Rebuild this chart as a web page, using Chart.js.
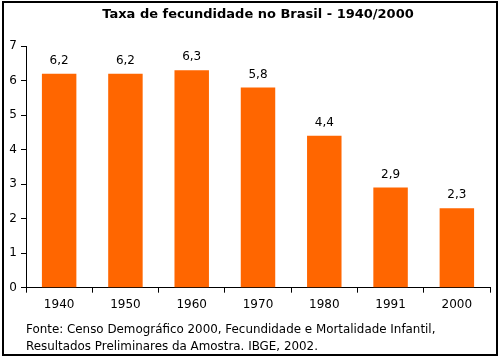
<!DOCTYPE html>
<html>
<head>
<meta charset="utf-8">
<script src="https://cdn.jsdelivr.net/npm/chart.js@4.4.1/dist/chart.umd.min.js"></script>
<style>
html,body{margin:0;padding:0;background:#fff;}
#wrap{position:relative;width:503px;height:359px;}
canvas{display:block;}
</style>
</head>
<body>
<div id="wrap"><canvas id="c" width="503" height="359"></canvas></div>
<script>
const categories = ['1940','1950','1960','1970','1980','1991','2000'];
const fertilityRate = [6.2, 6.2, 6.3, 5.8, 4.4, 2.9, 2.3];
const yTicks = [0,1,2,3,4,5,6,7];
const titleText = 'Taxa de fecundidade no Brasil - 1940/2000';
const sourceLines = ['Fonte: Censo Demográfico 2000, Fecundidade e Mortalidade Infantil,',
                     'Resultados Preliminares da Amostra. IBGE, 2002.'];

const FONT = 'DejaVu Sans, Verdana, sans-serif';

const valueLabels = {
  id: 'valueLabels',
  afterDatasetsDraw(chart) {
    const ctx = chart.ctx;
    const meta = chart.getDatasetMeta(0);
    ctx.save();
    ctx.font = '12px ' + FONT;
    ctx.fillStyle = '#000';
    ctx.textAlign = 'center';
    ctx.textBaseline = 'bottom';
    meta.data.forEach((bar, i) => {
      ctx.fillText(fertilityRate[i].toFixed(1).replace('.', ','), bar.x, bar.y - 7);
    });
    ctx.restore();
  }
};

const frame = {
  id: 'frame',
  afterDraw(chart) {
    const ctx = chart.ctx;
    ctx.save();
    ctx.strokeStyle = '#000';
    ctx.lineWidth = 2;
    ctx.strokeRect(3, 2, 494, 353);
    ctx.restore();
  }
};

new Chart(document.getElementById('c'), {
  type: 'bar',
  data: {
    labels: categories,
    datasets: [{
      data: fertilityRate,
      backgroundColor: '#FF6600',
      borderWidth: 0,
      categoryPercentage: 1,
      barPercentage: 0.52
    }]
  },
  options: {
    responsive: false,
    animation: false,
    layout: { padding: { left: 0, right: 13, top: 0, bottom: 0 } },
    plugins: {
      legend: { display: false },
      tooltip: { enabled: false },
      title: {
        display: true,
        text: titleText,
        fullSize: false,
        color: '#000',
        font: { family: FONT, size: 13, weight: 'bold', lineHeight: 1.2 },
        padding: { top: 7, bottom: 23.5 }
      },
      subtitle: {
        display: true,
        position: 'bottom',
        align: 'start',
        fullSize: false,
        text: sourceLines,
        color: '#000',
        font: { family: FONT, size: 11.9, lineHeight: 1.4 },
        padding: { top: 4, bottom: 4 }
      }
    },
    scales: {
      x: {
        grid: { display: true, drawOnChartArea: false, drawTicks: true, tickLength: 5, color: '#000', offset: true },
        border: { display: true, color: '#000', width: 1 },
        ticks: { color: '#000', font: { family: FONT, size: 12 }, padding: 5, maxRotation: 0 },
        afterFit(scale) { scale.height = 30; }
      },
      y: {
        min: 0, max: 7,
        afterBuildTicks(scale) { scale.ticks = yTicks.map(v => ({ value: v })); },
        grid: { display: true, drawOnChartArea: false, drawTicks: true, tickLength: 5, color: '#000' },
        border: { display: true, color: '#000', width: 1 },
        ticks: { color: '#000', font: { family: FONT, size: 12 }, padding: 4 },
        afterFit(scale) { scale.width = 26; }
      }
    }
  },
  plugins: [valueLabels, frame]
});
</script>
</body>
</html>
